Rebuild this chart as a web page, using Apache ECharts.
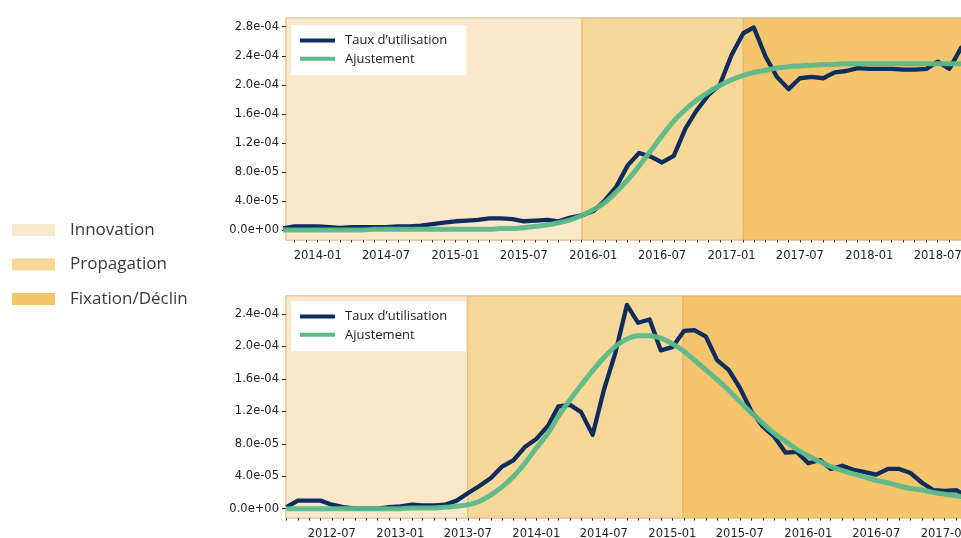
<!DOCTYPE html>
<html>
<head>
<meta charset="utf-8">
<script src="https://cdn.jsdelivr.net/npm/echarts@6/dist/echarts.min.js"></script>
<style>
  html, body { margin: 0; padding: 0; background: #fff; }
  #chart { width: 961px; height: 538px; }
</style>
</head>
<body>
<div id="chart"></div>
<script>
// ---- Upper panel: monthly usage rate and logistic fit (x 1e-4), from 2013-10 ----
const topStart = '2013-10';
const topUsage = [
  0.02, 0.05, 0.05,
  0.05, 0.04, 0.03, 0.04, 0.04, 0.04, 0.04, 0.05, 0.05, 0.06, 0.08, 0.10,
  0.12, 0.13, 0.14, 0.16, 0.16, 0.15, 0.12, 0.13, 0.14, 0.12, 0.17, 0.20,
  0.26, 0.41, 0.59, 0.89, 1.06, 1.01, 0.93, 1.02, 1.40, 1.65, 1.86, 2.00,
  2.41, 2.71, 2.79, 2.39, 2.11, 1.94, 2.09, 2.11, 2.09, 2.17, 2.19, 2.23,
  2.22, 2.22, 2.22, 2.21, 2.21, 2.22, 2.32, 2.22, 2.51, 2.38
];
const topFit = [
  0.00, 0.00, 0.00,
  0.00, 0.00, 0.00, 0.00, 0.00, 0.01, 0.01, 0.01, 0.01, 0.01, 0.01, 0.01,
  0.01, 0.01, 0.01, 0.01, 0.02, 0.02, 0.03, 0.05, 0.07, 0.10, 0.14, 0.20,
  0.28, 0.38, 0.52, 0.69, 0.88, 1.09, 1.30, 1.50, 1.66, 1.79, 1.90, 1.99,
  2.07, 2.13, 2.17, 2.20, 2.23, 2.25, 2.26, 2.27, 2.28, 2.28, 2.29, 2.29,
  2.29, 2.29, 2.29, 2.29, 2.29, 2.29, 2.29, 2.29, 2.29, 2.29
];
const topPhases = ['2013-10-09', '2015-12-02', '2017-02-01', '2018-09-30'];
const topXTicks = ['2014-01', '2014-07', '2015-01', '2015-07', '2016-01', '2016-07', '2017-01', '2017-07', '2018-01', '2018-07'];
const topYTicks = [0, 0.4, 0.8, 1.2, 1.6, 2.0, 2.4, 2.8];
const topRange = ['2013-10-09', '2018-09-06'];
const topYRange = [-0.138, 2.92];

// ---- Lower panel: monthly usage rate and fit (x 1e-4), from 2012-03 ----
const botStart = '2012-03';
const botUsage = [
  0.02, 0.10, 0.10, 0.10, 0.05, 0.02, 0.00, 0.00, 0.00, 0.02,
  0.03, 0.05, 0.04, 0.04, 0.05, 0.10, 0.19, 0.28, 0.38, 0.52, 0.60, 0.76,
  0.86, 1.02, 1.26, 1.28, 1.19, 0.91, 1.46, 1.92, 2.51, 2.29, 2.33, 1.95,
  1.99, 2.19, 2.20, 2.12, 1.83, 1.71, 1.49, 1.20, 1.01, 0.89, 0.69, 0.70,
  0.56, 0.60, 0.49, 0.53, 0.48, 0.45, 0.42, 0.49, 0.49, 0.44, 0.32, 0.23,
  0.22, 0.23, 0.15
];
const botFit = [
  0.00, 0.00, 0.00, 0.00, 0.00, 0.00, 0.00, 0.00, 0.00, 0.00,
  0.00, 0.01, 0.01, 0.01, 0.02, 0.03, 0.05, 0.09, 0.17, 0.27, 0.40, 0.56,
  0.75, 0.93, 1.14, 1.34, 1.52, 1.70, 1.86, 2.00, 2.09, 2.13, 2.13, 2.10,
  2.03, 1.94, 1.83, 1.71, 1.59, 1.46, 1.32, 1.18, 1.05, 0.93, 0.83, 0.73,
  0.65, 0.58, 0.52, 0.47, 0.43, 0.39, 0.35, 0.32, 0.28, 0.25, 0.23, 0.20,
  0.18, 0.16, 0.14
];
const botPhases = ['2012-02-29', '2013-07-01', '2015-01-29', '2017-03-31'];
const botXTicks = ['2012-07', '2013-01', '2013-07', '2014-01', '2014-07', '2015-01', '2015-07', '2016-01', '2016-07', '2017-01'];
const botYTicks = [0, 0.4, 0.8, 1.2, 1.6, 2.0, 2.4];
const botRange = ['2012-02-29', '2017-02-19'];
const botYRange = [-0.114, 2.62];

const phaseNames = ['Innovation', 'Propagation', 'Fixation/Déclin'];
const seriesNames = ['Taux d\u2019utilisation', 'Ajustement'];
const SCALE = 1e-4;

// ---- helpers ----
function ts(s) {
  const p = s.split('-').map(Number);
  return Date.UTC(p[0], p[1] - 1, p[2] || 1);
}
function monthSeq(start, n) {
  const p = start.split('-').map(Number);
  const out = [];
  for (let i = 0; i < n; i++) out.push(Date.UTC(p[0], p[1] - 1 + i, 1));
  return out;
}
function pairs(start, vals) {
  const xs = monthSeq(start, vals.length);
  return vals.map((v, i) => [xs[i], v * SCALE]);
}
function monthTicks(range) {
  const a = ts(range[0]), b = ts(range[1]);
  const d = new Date(a);
  let y = d.getUTCFullYear(), m = d.getUTCMonth() + 1;
  const out = [];
  for (;;) {
    const t = Date.UTC(y, m, 1);
    if (t > b) break;
    out.push(t);
    m++;
  }
  return out;
}
function fmtMonth(v) {
  const d = new Date(v);
  const m = d.getUTCMonth() + 1;
  return d.getUTCFullYear() + '-' + (m < 10 ? '0' + m : m);
}
function fmtExp(v) {
  const s = v.toExponential(1);
  const [mant, ex] = s.split('e');
  const sign = ex[0] === '-' ? '-' : '+';
  let digits = ex.replace(/[+-]/, '');
  if (digits.length < 2) digits = '0' + digits;
  return mant + 'e' + sign + digits;
}

const phaseColors = ['#fbe8cb', '#f8d899', '#f4c56c'];
const navy = '#0d2d5c';
const green = '#5bb98a';
const tickFont = { fontFamily: 'DejaVu Sans', fontSize: 11.5, color: '#222' };

const grids = [
  { left: 286, top: 18, width: 677, height: 222 },
  { left: 286, top: 296, width: 677, height: 222 }
];
const panels = [
  { start: topStart, usage: topUsage, fit: topFit, phases: topPhases, xt: topXTicks, yt: topYTicks, range: topRange, yr: topYRange },
  { start: botStart, usage: botUsage, fit: botFit, phases: botPhases, xt: botXTicks, yt: botYTicks, range: botRange, yr: botYRange }
];

const xAxes = [], yAxes = [], series = [];
panels.forEach((p, g) => {
  const min = ts(p.range[0]), max = ts(p.range[1]);
  const major = p.xt.map(s => ts(s));
  // main time axis: labelled half-year ticks
  xAxes.push({
    type: 'value', gridIndex: g, position: 'bottom', min: min, max: max,
    axisLine: { show: true, lineStyle: { color: '#222', width: 1 } },
    axisTick: { show: true, length: 5, customValues: major, lineStyle: { color: '#222', width: 1.2 } },
    axisLabel: { show: true, customValues: major, formatter: fmtMonth, margin: 10, hideOverlap: false, ...tickFont },
    splitLine: { show: false }
  });
  // companion axis carrying the monthly minor ticks
  xAxes.push({
    type: 'value', gridIndex: g, position: 'bottom', min: min, max: max,
    axisLine: { show: false },
    axisTick: { show: true, length: 2.5, customValues: monthTicks(p.range), lineStyle: { color: '#222', width: 1 } },
    axisLabel: { show: false },
    splitLine: { show: false }
  });
  const yv = p.yt.map(v => v * SCALE);
  yAxes.push({
    type: 'value', gridIndex: g, min: p.yr[0] * SCALE, max: p.yr[1] * SCALE,
    axisLine: { show: true, lineStyle: { color: '#bdb3a3', width: 1 } },
    axisTick: { show: true, length: 4, customValues: yv, lineStyle: { color: '#222', width: 1 } },
    axisLabel: { show: true, customValues: yv, formatter: fmtExp, margin: 7, ...tickFont },
    splitLine: { show: false }
  });

  // shaded phases
  phaseNames.forEach((name, k) => {
    series.push({
      name: name, type: 'line', xAxisIndex: g * 2, yAxisIndex: g, data: [],
      itemStyle: { color: phaseColors[k] }, lineStyle: { color: phaseColors[k] },
      silent: true, z: 1,
      markArea: {
        silent: true,
        itemStyle: { color: phaseColors[k], borderColor: 'rgba(214,168,96,0.55)', borderWidth: 1 },
        data: [[{ xAxis: ts(p.phases[k]) }, { xAxis: ts(p.phases[k + 1]) }]]
      }
    });
  });

  series.push({
    name: seriesNames[0], type: 'line', xAxisIndex: g * 2, yAxisIndex: g,
    data: pairs(p.start, p.usage), showSymbol: false, symbol: 'none',
    lineStyle: { color: navy, width: 4.3, join: 'round' }, itemStyle: { color: navy }, z: 3
  });
  series.push({
    name: seriesNames[1], type: 'line', xAxisIndex: g * 2, yAxisIndex: g,
    data: pairs(p.start, p.fit), showSymbol: false, symbol: 'none', smooth: 0.3,
    lineStyle: { color: green, width: 5, opacity: 0.95 }, itemStyle: { color: green }, z: 4
  });
});

const lineLegend = (top) => ({
  data: seriesNames, left: 291, top: top, orient: 'vertical',
  backgroundColor: '#ffffff', padding: [8, 19, 9, 9], itemGap: 3.3,
  icon: 'rect', itemWidth: 35, itemHeight: 4,
  selectedMode: false,
  textStyle: { fontFamily: 'Open Sans', fontSize: 13, color: '#222', lineHeight: 15, padding: [0, 0, 0, 5] }
});

const chart = echarts.init(document.getElementById('chart'), null, { renderer: 'canvas' });
chart.setOption({
  animation: false,
  backgroundColor: '#ffffff',
  grid: grids.map(g => ({
    ...g, show: true, borderColor: '#c9bfae', borderWidth: 1, backgroundColor: 'transparent',
    containLabel: false, outerBoundsMode: 'none'
  })),
  xAxis: xAxes,
  yAxis: yAxes,
  legend: [
    lineLegend(25),
    lineLegend(301),
    {
      data: phaseNames, left: 12, top: 220, orient: 'vertical', padding: 0,
      icon: 'rect', itemWidth: 43, itemHeight: 12, itemGap: 14.5,
      selectedMode: false,
      textStyle: { fontFamily: 'Open Sans', fontSize: 17, color: '#3a3a3a', lineHeight: 20, padding: [0, 0, 0, 10] }
    }
  ],
  series: series
});
</script>
</body>
</html>
